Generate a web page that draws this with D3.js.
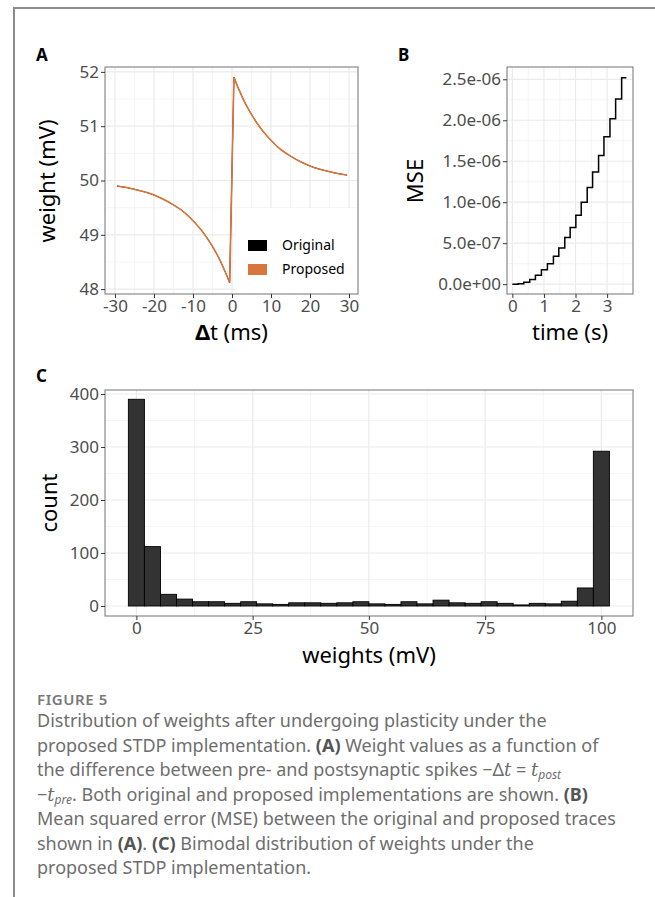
<!DOCTYPE html>
<html>
<head>
<meta charset="utf-8">
<script src="https://cdn.jsdelivr.net/npm/d3@7"></script>
<style>
  body { margin: 0; background: #fff; }
  text { font-family: "Noto Sans", sans-serif; }
</style>
</head>
<body>
<script>
// panel A: weight change vs spike time difference (both series overlap)
let dtNeg = [-29.5, -27, -24, -21, -18, -15, -12, -10, -8, -6, -4, -3, -2, -1.5, -1, -0.6];
let weightNeg = [49.90, 49.87, 49.82, 49.76, 49.67, 49.55, 49.40, 49.26, 49.10, 48.90, 48.66, 48.52, 48.36, 48.28, 48.19, 48.12];
let dtPos = [0.5, 1, 1.5, 2, 3, 4, 6, 8, 10, 12, 15, 18, 21, 24, 27, 29.5];
let weightPos = [51.90, 51.81, 51.72, 51.64, 51.48, 51.34, 51.10, 50.90, 50.74, 50.60, 50.45, 50.33, 50.24, 50.18, 50.13, 50.10];
let seriesNames = ["Original", "Proposed"];
let seriesColors = ["#000000", "#d9763b"];

// panel B: MSE step trace (values in units of 1e-6)
let mseTime = [0, 0.18, 0.36, 0.55, 0.73, 0.92, 1.11, 1.30, 1.47, 1.66, 1.83, 2.01, 2.18, 2.37, 2.54, 2.73, 2.90, 3.09, 3.27, 3.46, 3.61];
let mseValue = [0, 0.004, 0.024, 0.057, 0.11, 0.175, 0.25, 0.34, 0.44, 0.57, 0.69, 0.84, 1.00, 1.18, 1.37, 1.57, 1.80, 2.02, 2.26, 2.52, 2.52];
let mseTickValues = [0, 0.5, 1.0, 1.5, 2.0, 2.5];
let mseTickLabels = ["0.0e+00", "5.0e-07", "1.0e-06", "1.5e-06", "2.0e-06", "2.5e-06"];

// panel C: histogram of weights (30 bins)
let binCenters = [0, 3.45, 6.90, 10.34, 13.79, 17.24, 20.69, 24.14, 27.59, 31.03, 34.48, 37.93, 41.38, 44.83, 48.28,
    51.72, 55.17, 58.62, 62.07, 65.52, 68.97, 72.41, 75.86, 79.31, 82.76, 86.21, 89.66, 93.10, 96.55, 100];
let binCounts = [390, 112, 22, 13, 8, 8, 5, 8, 4, 3, 6, 6, 5, 6, 8, 4, 3, 8, 4, 11, 6, 5, 8, 5, 2, 5, 4, 9, 34, 292];
let binWidth = 3.45;

let size = {width: 655, height: 897};
let svg = d3.select("body").append("svg")
    .attr("width", size.width)
    .attr("height", size.height);

// outer figure frame (left and top)
svg.append("path")
    .attr("d", "M14,897 V8 H655")
    .attr("fill", "none")
    .attr("stroke", "#8c8c8c")
    .attr("stroke-width", 2);

function drawGrid(g, x, y, xMajor, xMinor, yMajor, yMinor) {
    let [x0, x1] = x.range();
    let [y0, y1] = y.range();
    g.append("rect")
        .attr("x", x0).attr("y", y1)
        .attr("width", x1 - x0).attr("height", y0 - y1)
        .attr("fill", "#fff");
    g.selectAll(null).data(xMinor).join("line")
        .attr("x1", d => x(d)).attr("x2", d => x(d))
        .attr("y1", y0).attr("y2", y1)
        .attr("stroke", "#f3f3f3").attr("stroke-width", 0.8);
    g.selectAll(null).data(yMinor).join("line")
        .attr("x1", x0).attr("x2", x1)
        .attr("y1", d => y(d)).attr("y2", d => y(d))
        .attr("stroke", "#f3f3f3").attr("stroke-width", 0.8);
    g.selectAll(null).data(xMajor).join("line")
        .attr("x1", d => x(d)).attr("x2", d => x(d))
        .attr("y1", y0).attr("y2", y1)
        .attr("stroke", "#ebebeb").attr("stroke-width", 1.2);
    g.selectAll(null).data(yMajor).join("line")
        .attr("x1", x0).attr("x2", x1)
        .attr("y1", d => y(d)).attr("y2", d => y(d))
        .attr("stroke", "#ebebeb").attr("stroke-width", 1.2);
}

function drawFrame(g, x, y) {
    let [x0, x1] = x.range();
    let [y0, y1] = y.range();
    g.append("rect")
        .attr("x", x0).attr("y", y1)
        .attr("width", x1 - x0).attr("height", y0 - y1)
        .attr("fill", "none")
        .attr("stroke", "#7f7f7f").attr("stroke-width", 1.1);
}

function styleAxis(a) {
    a.select(".domain").remove();
    a.selectAll(".tick line").attr("stroke", "#333");
    a.selectAll(".tick text")
        .attr("fill", "#4d4d4d")
        .attr("font-size", 17)
        .attr("font-family", "'Noto Sans', sans-serif");
}

function drawAxes(g, x, y, xTicks, yTicks, xFmt, yFmt) {
    g.append("g")
        .attr("transform", `translate(0,${y.range()[0]})`)
        .call(d3.axisBottom(x).tickValues(xTicks).tickFormat(xFmt).tickSize(4).tickPadding(2))
        .call(styleAxis);
    g.append("g")
        .attr("transform", `translate(${x.range()[0]},0)`)
        .call(d3.axisLeft(y).tickValues(yTicks).tickFormat(yFmt).tickSize(4).tickPadding(2))
        .call(styleAxis);
}

function panelLabel(txt, px, py) {
    svg.append("text")
        .attr("x", px).attr("y", py)
        .attr("font-family", "'Liberation Sans', Arial, sans-serif")
        .attr("font-weight", "bold")
        .attr("font-size", 17)
        .text(txt);
}

function yTitle(txt, px, py) {
    svg.append("text")
        .attr("transform", `translate(${px},${py}) rotate(-90)`)
        .attr("text-anchor", "middle")
        .attr("font-size", 22)
        .attr("fill", "#000")
        .text(txt);
}

// ---------- Panel A ----------
let xA = d3.scaleLinear().domain([-32.55, 32.3]).range([105, 358]);
let yA = d3.scaleLinear().domain([47.91, 52.09]).range([294, 67]);
let gA = svg.append("g");
drawGrid(gA, xA, yA, [-30, -20, -10, 0, 10, 20, 30], [-25, -15, -5, 5, 15, 25],
    [48, 49, 50, 51, 52], [48.5, 49.5, 50.5, 51.5]);

let lineA = d3.line().x(d => xA(d[0])).y(d => yA(d[1])).curve(d3.curveMonotoneX);
let negPts = d3.zip(dtNeg, weightNeg);
let posPts = d3.zip(dtPos, weightPos);
let pathA = lineA(negPts) + lineA(posPts).replace(/^M/, "L");

gA.selectAll(".series")
    .data(seriesNames)
    .join("path")
    .attr("class", "series")
    .attr("d", pathA)
    .attr("fill", "none")
    .attr("stroke", (d, i) => seriesColors[i])
    .attr("stroke-width", (d, i) => i === 0 ? 1 : 1.6);

// legend inside the panel, bottom right
let legA = gA.append("g");
legA.append("rect")
    .attr("x", 235).attr("y", 208).attr("width", 122).attr("height", 85)
    .attr("fill", "#fff");
legA.selectAll(".key").data(seriesNames).join("rect")
    .attr("x", 248).attr("y", (d, i) => 240 + i * 24)
    .attr("width", 19).attr("height", 11)
    .attr("fill", (d, i) => seriesColors[i]);
legA.selectAll(".lab").data(seriesNames).join("text")
    .attr("x", 282).attr("y", (d, i) => 250 + i * 24)
    .attr("font-size", 14)
    .text(d => d);

drawFrame(gA, xA, yA);
drawAxes(gA, xA, yA, [-30, -20, -10, 0, 10, 20, 30], [48, 49, 50, 51, 52], d => String(d), d => String(d));

panelLabel("A", 36, 61);
yTitle("weight (mV)", 55, 181);
let tA = svg.append("text")
    .attr("x", 231.5).attr("y", 340)
    .attr("text-anchor", "middle")
    .attr("font-size", 22);
tA.append("tspan").attr("font-weight", "bold").text("\u0394");
tA.append("tspan").text("t (ms)");

// ---------- Panel B ----------
let xB = d3.scaleLinear().domain([-0.17, 3.82]).range([507, 633]);
let yB = d3.scaleLinear().domain([-0.12, 2.65]).range([294, 67]);
let gB = svg.append("g");
drawGrid(gB, xB, yB, [0, 1, 2, 3], [0.5, 1.5, 2.5, 3.5],
    mseTickValues, [0.25, 0.75, 1.25, 1.75, 2.25]);

gB.append("path")
    .datum(d3.zip(mseTime, mseValue))
    .attr("d", d3.line().x(d => xB(d[0])).y(d => yB(d[1])).curve(d3.curveStepAfter))
    .attr("fill", "none")
    .attr("stroke", "#000")
    .attr("stroke-width", 1.5);

drawFrame(gB, xB, yB);
drawAxes(gB, xB, yB, [0, 1, 2, 3], mseTickValues, d => String(d), (d, i) => mseTickLabels[i]);

panelLabel("B", 398, 61);
yTitle("MSE", 423, 181);
svg.append("text")
    .attr("x", 570).attr("y", 340)
    .attr("text-anchor", "middle")
    .attr("font-size", 22)
    .text("time (s)");

// ---------- Panel C ----------
let xC = d3.scaleLinear().domain([-6.75, 106.8]).range([105, 633]);
let yC = d3.scaleLinear().domain([-18.9, 407.5]).range([616, 390]);
let gC = svg.append("g");
drawGrid(gC, xC, yC, [0, 25, 50, 75, 100], [12.5, 37.5, 62.5, 87.5],
    [0, 100, 200, 300, 400], [50, 150, 250, 350]);

gC.selectAll(".bar")
    .data(d3.zip(binCenters, binCounts))
    .join("rect")
    .attr("class", "bar")
    .attr("x", d => xC(d[0] - binWidth / 2))
    .attr("width", d => xC(d[0] + binWidth / 2) - xC(d[0] - binWidth / 2))
    .attr("y", d => yC(d[1]))
    .attr("height", d => yC(0) - yC(d[1]))
    .attr("fill", "#333333")
    .attr("stroke", "#000")
    .attr("stroke-width", 0.9);

drawFrame(gC, xC, yC);
drawAxes(gC, xC, yC, [0, 25, 50, 75, 100], [0, 100, 200, 300, 400], d => String(d), d => String(d));

panelLabel("C", 36, 382);
yTitle("count", 57, 503);
svg.append("text")
    .attr("x", 369).attr("y", 663)
    .attr("text-anchor", "middle")
    .attr("font-size", 22)
    .text("weights (mV)");

// ---------- Caption ----------
svg.append("text")
    .attr("x", 37).attr("y", 705)
    .attr("font-family", "Lato, sans-serif")
    .attr("font-weight", 600)
    .attr("font-size", 15)
    .attr("letter-spacing", 0.6)
    .attr("fill", "#7a7a7a")
    .text("FIGURE 5");

// each segment: [text, style] where style b = bold, i = italic, s = subscript italic, u = back up from subscript
let captionLines = [
    [["Distribution of weights after undergoing plasticity under the", ""]],
    [["proposed STDP implementation. ", ""], ["(A)", "b"], [" Weight values as a function of", ""]],
    [["the difference between pre- and postsynaptic spikes \u2212\u0394", ""], ["t", "i"], [" = ", ""], ["t", "i"], ["post", "s"]],
    [["\u2212", ""], ["t", "i"], ["pre", "s"], [". Both original and proposed implementations are shown. ", "u"], ["(B)", "b"]],
    [["Mean squared error (MSE) between the original and proposed traces", ""]],
    [["shown in ", ""], ["(A)", "b"], [". ", ""], ["(C)", "b"], [" Bimodal distribution of weights under the", ""]],
    [["proposed STDP implementation.", ""]]
];

let cap = svg.append("g")
    .attr("font-family", "Lato, sans-serif")
    .attr("fill", "#6e6e6e");

captionLines.forEach(function (segs, li) {
    let t = cap.append("text")
        .attr("x", 37)
        .attr("y", 727 + li * 24.5)
        .attr("font-size", 18)
        .attr("font-family", "Lato, sans-serif");
    segs.forEach(function (s) {
        let sp = t.append("tspan").text(s[0]);
        if (s[1] === "b") sp.attr("font-weight", "bold").attr("fill", "#555");
        if (s[1] === "i") sp.attr("font-style", "italic").attr("font-family", "'DejaVu Serif', serif");
        if (s[1] === "s") sp.attr("font-style", "italic").attr("font-size", 12).attr("dy", 3);
        if (s[1] === "u") sp.attr("dy", -3);
    });
});
</script>
</body>
</html>
